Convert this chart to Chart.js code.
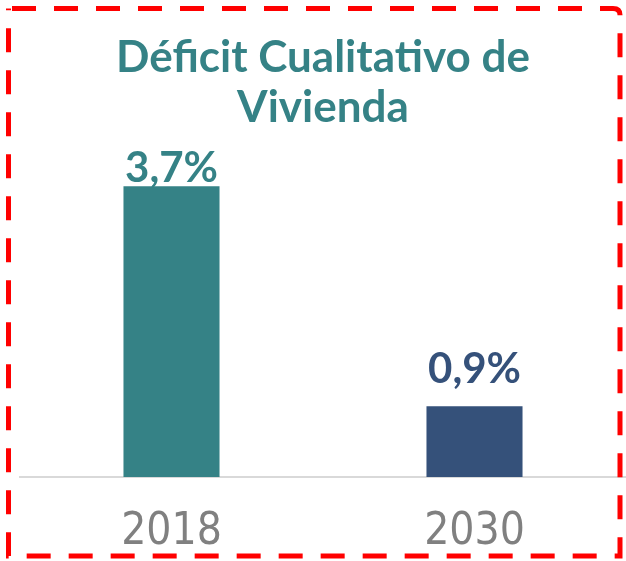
<!DOCTYPE html>
<html>
<head>
<meta charset="utf-8">
<script src="https://cdn.jsdelivr.net/npm/chart.js@4.4.1/dist/chart.umd.min.js"></script>
<style>
html,body{margin:0;padding:0;background:#fff;}
#wrap{position:relative;width:626px;height:561px;}
</style>
</head>
<body>
<div id="wrap"><canvas id="c" width="626" height="561"></canvas></div>
<script>
const categories = ['2018', '2030'];
const values = [3.7, 0.9];
const valueLabels = ['3,7%', '0,9%'];
const barColors = ['#358286', '#35517a'];
const titleLines = ['Déficit Cualitativo de', 'Vivienda'];

const borderPlugin = {
  id: 'dashedBorder',
  afterDraw(chart) {
    const ctx = chart.ctx;
    ctx.save();
    ctx.strokeStyle = '#ff0000';
    ctx.lineWidth = 5;
    ctx.setLineDash([24, 18]);
    ctx.beginPath();
    ctx.moveTo(12, 8.5);
    ctx.lineTo(613, 8.5);
    ctx.quadraticCurveTo(620, 8.5, 620, 15);
    ctx.lineTo(620, 556);
    ctx.lineTo(8.5, 556);
    ctx.lineTo(8.5, 8.5);
    ctx.stroke();
    ctx.restore();
  }
};

const labelPlugin = {
  id: 'valueLabels',
  afterDatasetsDraw(chart, args, opts) {
    const ctx = chart.ctx;
    const meta = chart.getDatasetMeta(0);
    ctx.save();
    ctx.font = 'bold 42px Lato, "Open Sans", sans-serif';
    ctx.textAlign = 'center';
    ctx.textBaseline = 'alphabetic';
    meta.data.forEach((bar, i) => {
      ctx.fillStyle = barColors[i];
      ctx.fillText(valueLabels[i], bar.x, bar.y - opts.gaps[i]);
    });
    ctx.restore();
  }
};

new Chart(document.getElementById('c'), {
  type: 'bar',
  data: {
    labels: categories,
    datasets: [{
      data: values,
      backgroundColor: barColors,
      borderWidth: 0,
      barPercentage: 1,
      categoryPercentage: 0.317
    }]
  },
  options: {
    responsive: false,
    animation: false,
    devicePixelRatio: 1,
    layout: { padding: { top: 23, left: 20, right: 0, bottom: 0 } },
    plugins: {
      legend: { display: false },
      tooltip: { enabled: false },
      title: {
        display: true,
        text: titleLines,
        color: '#358286',
        font: { family: 'Lato, "Open Sans", sans-serif', size: 44, weight: 'bold', lineHeight: 50 / 44 },
        padding: { top: 10, bottom: 14 }
      },
      valueLabels: { gaps: [4, 23] }
    },
    scales: {
      x: {
        grid: { display: false, drawTicks: false },
        border: { display: true, color: '#d9d9d9', width: 2 },
        afterFit: (scale) => { scale.height = 84; },
        ticks: {
          color: '#808080',
          padding: 29,
          font: { family: '"Liberation Sans Narrow", "DejaVu Sans Condensed", "Roboto Condensed", sans-serif', size: 44 }
        }
      },
      y: {
        display: false,
        min: 0,
        max: 4.2
      }
    }
  },
  plugins: [borderPlugin, labelPlugin]
});
</script>
</body>
</html>
